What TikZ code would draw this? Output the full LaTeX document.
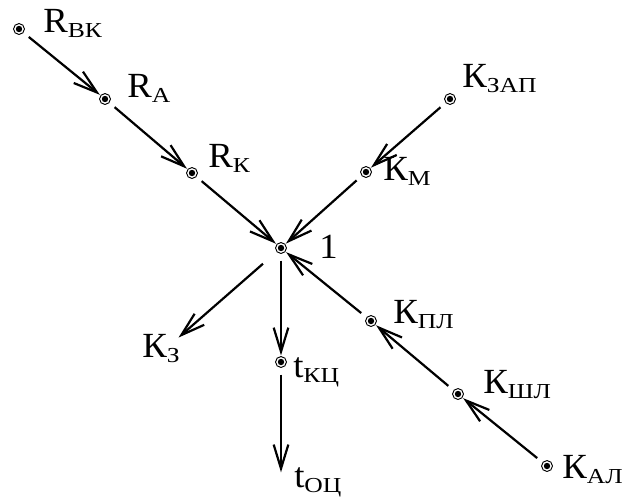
\documentclass[tikz,border=0pt]{standalone}
\usepackage{fontspec}
\setmainfont{Liberation Serif}
\newfontfamily\mainlbl[FakeStretch=1.04]{Liberation Serif}
\newfontfamily\sublbl[FakeStretch=1.2]{Liberation Serif}
\usepackage{tikz}
\usetikzlibrary{arrows.meta,positioning,calc}
\newcommand{\vlab}[2]{#1\raisebox{-3.75pt}{\fontsize{16}{17}\sublbl #2}}

\begin{document}
\begin{tikzpicture}[
    x=0.75pt,
    y=-0.75pt,
    font=\fontsize{26.5}{30}\selectfont\mainlbl,
    pnt/.style={
        circle,
        draw,
        line width=0.7pt,
        fill=white,
        minimum size=8.2pt,
        inner sep=0pt,
        path picture={\fill[black] (path picture bounding box.center) circle (2.4pt);}
    },
    lbl/.style={anchor=base west, inner sep=0pt},
    arr/.style={
        -{Straight Barb[length=18pt,width=11pt]},
        line width=1.65pt,
        shorten <=5pt,
        shorten >=0.5pt
    }
]
\useasboundingbox (0,0) rectangle (627,497);

\node[pnt] (rvk) at (19,29) {};
\node[pnt] (ra) at (105,99) {};
\node[pnt] (rk) at (192,173) {};
\node[pnt] (c1) at (281,248) {};
\node[pnt] (kzap) at (450,99) {};
\node[pnt] (km) at (366,172) {};
\node[pnt] (kpl) at (371,321) {};
\node[pnt] (kshl) at (458,394) {};
\node[pnt] (kal) at (547,466) {};
\node[pnt] (tkc) at (281,362) {};
\coordinate (kz) at (178,338);
\coordinate (toc) at (281,473);

% labels
\node[lbl] (rvk-l) at (43,32) {\vlab{R}{ВК}};
\node[lbl] (ra-l) at (127,97) {\vlab{R}{А}};
\node[lbl] (rk-l) at (208,167) {\vlab{R}{К}};
\node[lbl] (c1-l) at (319,258) {1};
\node[lbl] (kzap-l) at (462,87) {\vlab{К}{ЗАП}};
\node[lbl] (km-l) at (383,180) {\vlab{К}{М}};
\node[lbl] (kpl-l) at (393,323) {\vlab{К}{ПЛ}};
\node[lbl] (kshl-l) at (483,393) {\vlab{К}{ШЛ}};
\node[lbl] (kal-l) at (562,478) {\vlab{К}{АЛ}};
\node[lbl] (kz-l) at (142,357) {\vlab{К}{З}};
\node[lbl] (tkc-l) at (293,377) {\vlab{t}{КЦ}};
\node[lbl] (toc-l) at (294,487) {\vlab{t}{ОЦ}};

\draw[arr] (rvk) -- (ra);
\draw[arr] (ra) -- (rk);
\draw[arr] (rk) -- (c1);
\draw[arr] (kzap) -- (km);
\draw[arr] (km) -- (c1);
\draw[arr] (kal) -- (kshl);
\draw[arr] (kshl) -- (kpl);
\draw[arr] (kpl) -- (c1);
\draw[arr] (c1) -- (tkc);
\draw[arr] (tkc) -- (toc);
\draw[arr, shorten <=13.5pt] (c1) -- (kz);

\end{tikzpicture}
\end{document}
